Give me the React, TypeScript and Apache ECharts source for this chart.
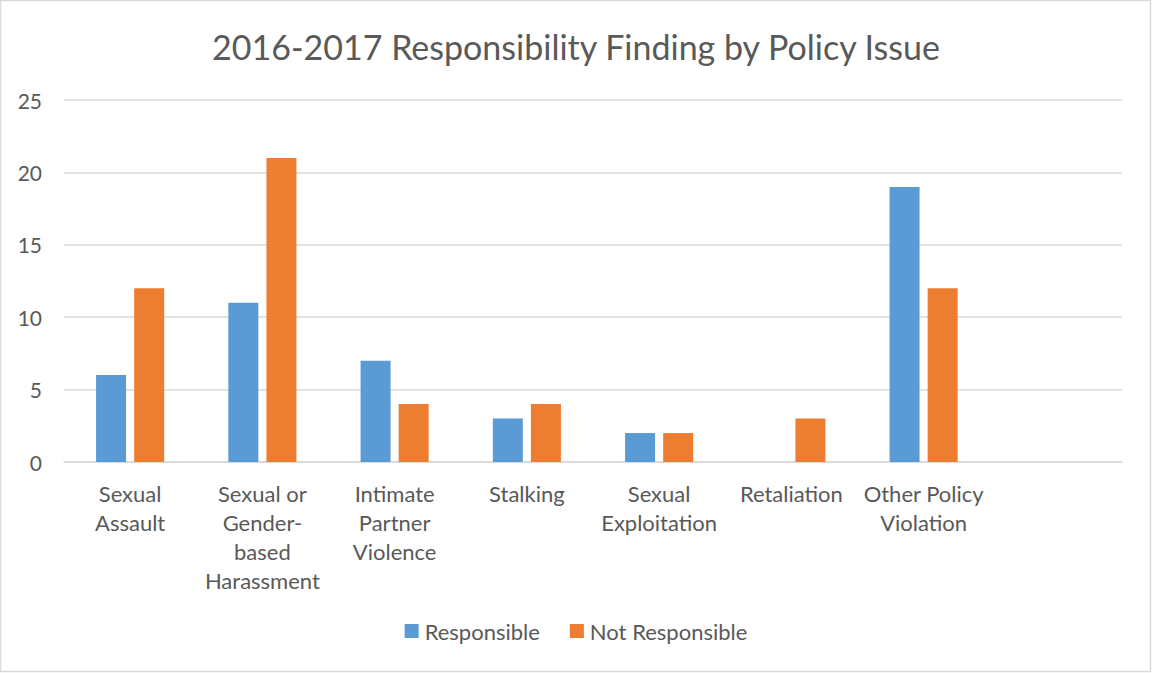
import React, { useEffect, useRef } from "react";
import * as echarts from "echarts";

const categories = [
  "Sexual\nAssault",
  "Sexual or\nGender-\nbased\nHarassment",
  "Intimate\nPartner\nViolence",
  "Stalking",
  "Sexual\nExploitation",
  "Retaliation",
  "Other Policy\nViolation",
  "",
];
const responsible = [6, 11, 7, 3, 2, null, 19, null];
const notResponsible = [12, 21, 4, 4, 2, 3, 12, null];
const titleText = "2016-2017 Responsibility Finding by Policy Issue";

const FONT = "Lato, 'Open Sans', sans-serif";
const TEXT = "#595959";

export default function App() {
  const ref = useRef<HTMLDivElement>(null);
  useEffect(() => {
    const chart = echarts.init(ref.current!, null, { renderer: "svg" });
    chart.setOption({
      animation: false,
      backgroundColor: "#ffffff",
      textStyle: { fontFamily: FONT },
      title: {
        text: titleText,
        left: "center",
        top: 24,
        textStyle: { fontFamily: FONT, fontSize: 34, fontWeight: "normal", color: TEXT },
      },
      legend: {
        bottom: 26,
        left: "center",
        itemWidth: 14,
        itemHeight: 14,
        itemGap: 30,
        icon: "rect",
        textStyle: { fontFamily: FONT, fontSize: 22, color: TEXT, padding: [0, 0, 0, 1] },
        data: ["Responsible", "Not Responsible"],
      },
      grid: { left: 64, right: 30, top: 100, bottom: 211, containLabel: false },
      xAxis: {
        type: "category",
        data: categories,
        axisLine: { lineStyle: { color: "#D9D9D9", width: 1.5 } },
        axisTick: { show: false },
        axisLabel: {
          interval: 0,
          fontFamily: FONT,
          fontSize: 22,
          lineHeight: 29,
          color: TEXT,
          margin: 17,
        },
      },
      yAxis: {
        type: "value",
        min: 0,
        max: 25,
        interval: 5,
        axisLine: { show: false },
        axisTick: { show: false },
        axisLabel: { fontFamily: FONT, fontSize: 21, color: TEXT, margin: 22 },
        splitLine: { lineStyle: { color: "#D9D9D9", width: 1.5 } },
      },
      series: [
        {
          name: "Responsible",
          type: "bar",
          data: responsible,
          barWidth: 30,
          barGap: "27%",
          itemStyle: { color: "#5B9BD5" },
        },
        {
          name: "Not Responsible",
          type: "bar",
          data: notResponsible,
          barWidth: 30,
          itemStyle: { color: "#ED7D31" },
        },
      ],
      graphic: [
        {
          type: "rect",
          shape: { x: 0.5, y: 0.5, width: 1150, height: 671 },
          style: { fill: "none", stroke: "#D9D9D9", lineWidth: 1.5 },
          silent: true,
          z: 100,
        },
      ],
    });
    return () => chart.dispose();
  }, []);
  return (
    <div
      ref={ref}
      style={{ position: "fixed", left: 0, top: 0, width: 1152, height: 673 }}
    />
  );
}
